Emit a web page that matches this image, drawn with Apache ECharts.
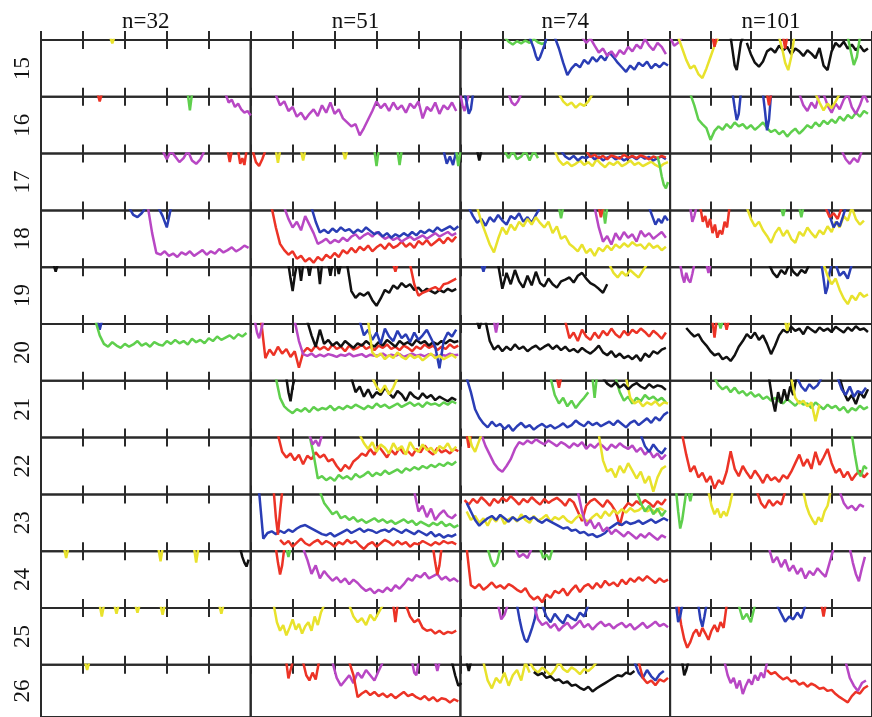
<!DOCTYPE html>
<html><head><meta charset="utf-8">
<script src="https://cdn.jsdelivr.net/npm/echarts@6/dist/echarts.min.js"></script>
<style>html,body{margin:0;padding:0;background:#fff}#c{width:872px;height:717px}</style>
</head><body><div id="c"></div>
<script>
// Labels
const rowLabels = ['15','16','17','18','19','20','21','22','23','24','25','26'];
const colLabels = ['n=32','n=51','n=74','n=101'];
const xTickStep = 20;

// Traces: [column, colour key, start x (0-100 of panel width), x step, depth values (0 = top, 100 = bottom)]
const row15 = [
 [0,'y',33,1,[-5,6,-5]],
 [2,'g',21,2,[-5,3,8,2,6,1,5,-2,4,7,3]],
 [2,'b',33,1,[-5,5,15,28,36,30,20,10,-3]],
 [2,'b',45,2,[-5,15,40,62,50,42,48,35,42,30,38,28,36,22,30,40,48,56,45,52,40,46,38,50,42,48,40,45]],
 [2,'m',58,2,[-5,5,-3,10,22,15,28,20,30,18,25,12,20,8,15,-2,10,18,5,12,25]],
 [3,'m',0,2,[-5,10,5,-5]],
 [3,'y',4,2,[-5,15,35,50,45,60,67,50,30,10,-5]],
 [3,'r',21,1,[-5,12,-5]],
 [3,'k',30,1,[-5,20,45,53,30,5,-5]],
 [3,'k',38,2,[5,25,40,47,38,20,15,22,10,18,12,25,15,20,28,18,24,32,14,45,53,20,5,12,3,15,8,18,10,20,15]],
 [3,'y',54,1.5,[-5,15,40,53,30,-5]],
 [3,'r',56,1,[-5,15,-5]],
 [3,'g',88,1.5,[-5,20,44,30,-5]]
];
const row16 = [
 [0,'r',27,1,[-5,8,-5]],
 [0,'g',70,1,[-5,24,-5]],
 [0,'m',88,1.5,[-5,10,5,18,12,22,28,25,33]],
 [1,'m',12,2,[-3,15,8,25,18,35,28,40,30,22,34,15,28,10,30,22,38,45,52,48,68,55,40,25,8,20,12,25,10,22,15,28,12,20,8,38,18,25,10,30,15,22,10,25]],
 [2,'m',0,1,[-5,15,25,10,-5]],
 [2,'b',2,1,[-5,10,30,22,-5]],
 [2,'m',23,1.5,[-5,10,15,8,-5]],
 [2,'y',47,2,[-5,8,15,10,19,12,16,8,-5]],
 [3,'g',10,2,[-5,15,40,48,55,76,60,52,58,48,55,45,52,48,56,50,58,52,45,55,62,58,66,60,70,62,56,65,58,50,55,45,52,42,48,40,46,35,42,32,38,28,35,25,30]],
 [3,'b',31,1,[-5,20,41,30,-5]],
 [3,'b',46,1,[-5,25,59,40,-5]],
 [3,'r',48,1,[-5,15,-5]],
 [3,'m',64,2,[-5,15,25,10,20,-5,-5,15,28,12,22,5,-5,18,30,15,-5,10]],
 [3,'y',72,2,[-5,10,24,12,20,8,-5]]
];
const row17 = [
 [0,'m',58,2,[-5,10,-5,5,15,8,-5,12,18,10,-5]],
 [0,'r',89,1,[-5,15,-5]],
 [0,'r',94,1,[-5,18,8,20,-5]],
 [1,'r',1,1.5,[-5,15,22,10,-5]],
 [1,'y',12,1,[-5,16,-5]],
 [1,'y',24,1,[-5,12,-5]],
 [1,'y',44,1,[-5,10,-5]],
 [1,'g',59,1,[-5,22,-5]],
 [1,'g',70,1,[-5,20,-5]],
 [1,'b',92,1.5,[-5,18,5,20,-5]],
 [1,'g',98,1,[-5,22,-5]],
 [2,'k',8,1,[-5,12,-5]],
 [2,'g',21,2,[-5,8,-5,10,5,-5,12,-5,8]],
 [2,'y',45,2,[-5,12,20,15,22,18,12,20,15,22,10,18,24,16,20,14,22,18,12,20,16,22,18,14,20,24,18,15]],
 [2,'b',48,2,[-5,5,10,4,12,6,8,3,10,5,12,7,4,10,6,12,8,5,10,4,9,6,12,8,5,10]],
 [2,'r',60,2,[-5,6,2,8,4,10,3,6,9,2,7,4,8,3,6,10,5,8,4,7]],
 [2,'g',94,1,[5,20,40,55,61,50]],
 [3,'m',85,2,[-5,10,18,8,15,-5]]
];
const row18 = [
 [0,'b',42,2,[-5,8,12,5,-5,-5,-5,-5,10,30,-5]],
 [0,'m',51,2,[-5,40,75,78,72,80,76,82,74,78,72,80,75,70,78,72,76,68,74,70,65,72,68,62,66]],
 [1,'r',10,2,[-5,30,59,70,78,72,85,80,90,84,92,82,88,78,84,75,82,70,76,66,74,64,70,62,72,65,60,68,58,66,62,55,64,58,66,54,60,52,62,56,50,58,48,55,46]],
 [1,'m',16,2,[-5,15,30,20,35,10,25,40,59,55,50,58,52,56,48,54,46,42,50,44,40,46,38,44,50,46,52,48,55,50,46,52,48,44,50,45,40,46,42,38,44,40]],
 [1,'b',29,2,[-5,20,39,34,40,32,38,30,36,33,40,34,38,30,36,42,38,46,40,48,42,46,40,45,38,44,36,40,34,38,30,36,32,28,34,28]],
 [2,'b',4,2,[-5,10,22,15,27,12,20,8,18,25,10,15,5,20,12,22,8,-5]],
 [2,'y',8,2,[-5,20,40,60,74,50,30,42,25,35,20,28,15,25,12,22,30,20,40,28,50,45,59,65,72,60,75,68,80,66,72,62,70,60,66,58,64,56,62,60,68,58,66,62,70,64]],
 [2,'m',64,2,[-5,30,55,45,60,40,52,38,48,42,55,36,46,40,50,44,38,48]],
 [2,'b',90,1.5,[-5,10,25,15,22,10,18]],
 [2,'g',47,1,[-5,14,-5]],
 [2,'g',68,1,[-5,23,-5]],
 [2,'r',66,1,[-5,12,-5]],
 [3,'r',15,1.2,[-5,20,10,30,15,40,25,48,35,42,20,30,-5]],
 [3,'m',10,1,[-5,20,10,-5]],
 [3,'y',38,2,[-5,15,28,20,35,45,57,40,30,45,35,50,57,38,45,30,40,48,35,42,28,38,20,30,10,18,-5]],
 [3,'g',55,1,[-5,10,-5]],
 [3,'g',64,1,[-5,12,-5]],
 [3,'b',78,1.5,[-5,15,30,20,28,12,-5]],
 [3,'r',77,2,[-5,12,5,15,-5]],
 [3,'y',90,2,[-5,15,25,18]]
];
const row19 = [
 [0,'k',6,1,[-5,8,-5]],
 [1,'k',18,1,[-5,20,42,15,-5]],
 [1,'k',23,1,[-5,24,-5]],
 [1,'k',27,1,[-5,15,-5]],
 [1,'k',32,1,[-5,30,-5]],
 [1,'k',37,1,[-5,15,-5]],
 [1,'k',41,1,[-5,12,-5]],
 [1,'k',46,2,[-5,42,54,46,50,44,58,68,55,40,45,32,38,28,35,30,40,36,44,38,42,46,40,44,38,42,38]],
 [1,'r',68,1,[-5,8,-5]],
 [1,'r',76,2,[-5,30,50,45,42,38,35,40,30,28,24,20]],
 [2,'b',10,1,[-5,8,-5]],
 [2,'k',18,2,[-5,38,10,30,5,25,36,15,32,8,28,34,20,30,36,25,22,18,27,15,10,20,28,32,38,45,30]],
 [2,'y',71,2,[-5,10,18,8,15,5,12,18,6,-5]],
 [3,'m',5,1,[-5,15,27,10,22,27,12,-5]],
 [3,'m',18,1,[-5,10,-5]],
 [3,'k',49,2,[-5,10,18,5,12,-5,8,15,5,10,-5]],
 [3,'b',75,1,[-5,20,47,35,10,-5]],
 [3,'y',76,2,[-5,15,30,20,40,55,65,50,58,45,52,48]],
 [3,'b',82,2,[-5,15,8,20,-5]]
];
const row20 = [
 [0,'b',27,1,[-5,10,-5]],
 [0,'g',26,2,[-5,20,35,40,32,38,42,35,40,36,30,38,34,40,32,36,38,30,35,28,34,30,36,26,32,28,34,25,30,22,28,24,20,26,18,22,16]],
 [1,'r',5,2,[-5,60,45,55,40,52,44,58,48,77,50,42,48,38,45,40,46,36,44,40,48,38,45,42,36,44,40,46,38,42,36,44,40,46,38,42,48,40,44,36,42,38,46,40,44,36,42,38]],
 [1,'m',2,1,[-5,15,25,10,-5]],
 [1,'m',21,2,[-5,30,53,56,52,58,54,57,53,55,58,54,56,52,57,55,53,58,54,56,55,52,57,54,56,53,58,55,52,56,54,57,53,55,58,54,56,52,55,54]],
 [1,'k',27,2,[-5,20,40,10,35,28,38,32,40,30,36,42,34,38,30,36,40,32,38,28,34,40,30,36,32,38,28,34,30,38,32,36,30,34,28,32,30]],
 [1,'b',52,2,[-5,20,10,28,15,35,8,22,30,12,25,18,32,15,28,20,10,25,40,78,30,15,22,10]],
 [1,'y',56,2,[-5,50,58,52,62,55,60,50,58,62,54,60,56,64,58,52,60,56,62,58,54,60]],
 [2,'k',8,1,[-5,8,-5]],
 [2,'m',16,1,[-5,15,-5]],
 [2,'k',12,2,[-5,30,45,38,48,40,46,36,44,40,48,42,38,45,40,36,44,38,46,40,48,44,50,42,48,52,46,38,50,55,48,58,52,60,56,62,55,65,52,58,48,52,45,42]],
 [2,'r',50,2,[-5,25,15,30,10,22,28,15,25,12,20,8,18,24,12,20,10,16,8,14,22,12,18,26,15]],
 [3,'k',8,2,[7,15,22,18,30,38,48,55,52,62,58,65,55,40,30,18,25,15,28,20,35,53,38,20,10,15,5,12,8,18,5,10,15,6,12,8,14,5,10,15,6,12,4,10,8,14]],
 [3,'r',21,1,[-5,24,-5]],
 [3,'r',27,1,[-5,10,-5]],
 [3,'g',24,1,[-5,8,-5]],
 [3,'y',57,1,[-5,12,-5]]
];
const row21 = [
 [1,'g',12,2,[-5,30,45,52,57,50,54,48,55,46,52,48,50,44,52,46,50,44,48,42,46,50,44,48,40,46,42,48,44,40,46,42,38,44,40,46,38,42,40,44,38,42,36,40]],
 [1,'k',17,1,[-5,20,36,10,-5]],
 [1,'k',48,2,[-5,20,10,28,15,30,20,25,12,22,30,18,24,35,20,28,32,22,30,25,34,28,32,36,30,34]],
 [1,'y',58,2,[-5,10,20,8,24,12,-5]],
 [2,'b',3,2,[-5,20,50,65,75,82,72,80,76,85,78,88,80,74,82,78,86,80,76,82,78,84,80,75,82,78,70,76,80,72,78,74,80,76,72,78,70,76,82,74,70,78,72,66,74,64,70,60,55]],
 [2,'g',43,2,[-5,25,40,30,45,35,48,38,30,20]],
 [2,'g',74,2,[-5,20,35,28,40,30,36,25,32,28,35,30,38]],
 [2,'y',79,2,[-5,30,40,35,45,38,42,36,44,38,40]],
 [2,'k',68,2,[-5,5,10,3,12,6,15,8,4,10,14,6,12,8,10,16]],
 [2,'r',46,1,[-5,12,-5]],
 [2,'g',63,1,[-5,30,-5]],
 [3,'g',22,2,[-5,8,15,10,20,12,22,18,26,20,28,24,32,28,35,30,36,40,32,38,44,36,42,40,48,38,44,50,42,48,44,52,46,56,48,52,44,50,46]],
 [3,'k',49,1.5,[-5,30,54,20,40,15,35,10,25,-5]],
 [3,'k',84,2,[-5,20,35,25,41,20,30,15]],
 [3,'y',60,2,[-5,30,40,35,45,38,71,42]],
 [3,'b',63,2,[-5,10,18,6,14,8,-5]],
 [3,'b',83,2,[-5,15,25,10,28,18,22,12]]
];
const row22 = [
 [1,'r',13,2,[-5,25,35,28,40,30,47,32,38,26,35,30,42,38,50,59,48,55,42,36,28,32,20,30,15,25,35,22,30,18,28,24,32,20,26,14,24,30,18,26,22,28,20,24]],
 [1,'g',28,2,[-5,30,72,68,75,70,76,66,72,68,74,64,70,66,60,68,62,66,58,64,60,56,62,54,58,52,56,50,54,48,52,46,50,44,48,42]],
 [1,'y',52,2,[-5,10,20,8,25,12,18,28,10,22,15,30,8,20,25,12,22,18,28,15,20,10,24,16]],
 [1,'m',28,1.5,[-5,12,5,15,-5]],
 [2,'m',10,2,[-5,15,30,45,55,60,50,38,20,8,12,5,10,3,8,12,5,10,15,8,12,18,10,15,8,20,12,18,10,15,22,12,18,10,16,20,14,25,18,30,22,35,28,38,30]],
 [2,'y',66,2,[-5,40,60,55,70,50,62,45,58,72,60,80,68,95,70,55,50]],
 [2,'b',86,2,[-5,15,25,12,22,28,18]],
 [2,'r',3,1,[-5,18,-5]],
 [2,'y',4,1.5,[-5,15,25,10,-5]],
 [3,'r',6,2,[-5,30,60,50,70,62,78,68,90,75,82,60,24,55,68,50,62,72,58,68,80,65,75,70,78,66,72,60,45,30,50,38,55,25,48,35,20,45,62,55,70,60,75,65,58,70,62]],
 [3,'g',90,1.5,[-5,30,60,68,50,55]]
];
const row23 = [
 [1,'b',4,2,[-5,78,68,65,70,64,68,62,66,60,56,54,58,62,66,70,72,68,74,70,66,62,68,64,60,66,62,64,68,64,62,66,60,64,68,62,66,70,64,68,72,66,74,70,76,72,74,70]],
 [1,'r',11,1,[-5,40,71,30,-5]],
 [1,'r',14,2,[80,88,82,92,85,78,86,90,84,80,88,82,86,92,84,88,80,86,82,90,96,88,84,92,86,80,84,90,82,88,84,92,86,88,82,86,90,84,88,82,86,84,88]],
 [1,'g',33,2,[-5,15,25,35,30,42,38,45,40,48,44,50,46,42,48,44,50,46,52,48,44,50,46,54,48,52,56,50,54,48,56,52,58,54]],
 [1,'m',78,2,[-5,30,20,40,25,45,35,28,38,42,35]],
 [2,'r',2,2,[10,18,8,15,5,12,20,8,15,6,12,3,10,18,8,14,5,12,18,8,15,10,6,12,20,8,14,30,47,20,12,8,15,22,10,18,30,55,25,15,20,12,18,10,15,22,12,18,8]],
 [2,'y',3,2,[30,45,38,50,42,55,40,48,36,52,44,40,48,35,45,50,38,46,42,36,48,40,44,38,46,50,42,36,44,48,40,34,42,30,38,28,34,26,32,24,30,28,22,30,26,32,24,28]],
 [2,'b',3,2,[15,30,45,55,48,42,38,45,36,42,48,40,46,42,38,44,40,46,50,44,48,52,56,60,58,64,62,68,66,72,70,75,72,68,60,55,50,54,48,52,50,46,52,48,44,50,46,42,46]],
 [2,'m',56,2,[-5,30,55,45,60,50,65,58,70,62,68,74,66,72,78,70,76,68,74,80,72,76]],
 [2,'g',84,2,[-5,15,30,20,35,25,38,28]],
 [3,'g',3,1,[-5,30,60,45,20,-5]],
 [3,'g',9,1,[-5,12,-5]],
 [3,'y',19,1.5,[-5,20,35,25,41,30,38,20,-5]],
 [3,'r',43,2,[-5,15,24,10,20,12,18,-5]],
 [3,'y',66,1.5,[-5,20,35,45,53,40,48,30,20,-5]],
 [3,'m',84,2,[-5,15,25,20,28,18,22]]
];
const row24 = [
 [0,'y',11,1,[-5,12,-5]],
 [0,'y',56,1,[-5,18,-5]],
 [0,'y',73,1,[-5,20,-5]],
 [0,'k',95,1,[-5,10,20,27,15]],
 [1,'r',12,1,[-5,20,41,25,-5]],
 [1,'g',17,1,[-5,10,-5]],
 [1,'m',25,2,[-5,15,40,25,48,35,44,52,46,55,48,58,50,56,64,70,66,74,68,72,64,70,60,66,58,48,52,42,46,38,48,44,40,50,45,52,48,54]],
 [1,'r',87,1,[-5,20,41,25,-5]],
 [2,'r',3,2,[-5,60,65,58,68,62,55,64,60,66,58,62,68,72,65,78,85,80,90,76,82,70,74,66,78,68,60,72,62,58,66,56,64,52,60,55,62,50,58,48,54,46,52,44,50,56,48,54,50]],
 [2,'g',13,1.5,[-5,15,27,20,-5]],
 [2,'g',38,1.5,[-5,12,6,15,-5]],
 [2,'m',26,2,[-5,10,5,12,-5]],
 [3,'m',49,2,[-5,20,10,28,15,35,25,40,30,48,35,42,30,38,45,20,-5]],
 [3,'m',89,1.5,[-5,20,40,53,30,10]]
];
const row25 = [
 [0,'y',28,1,[-5,15,-5]],
 [0,'y',35,1,[-5,10,-5]],
 [0,'y',45,1,[-5,8,-5]],
 [0,'y',57,1,[-5,12,-5]],
 [0,'y',85,1,[-5,10,-5]],
 [1,'y',11,1.5,[-5,25,40,30,48,35,20,38,28,45,32,25,40,15,30,8,-5]],
 [1,'y',47,2,[-5,15,25,18,30,12,22,8,-5]],
 [1,'r',68,1,[-5,25,-5]],
 [1,'r',74,2,[-5,15,25,20,35,40,38,45,40,46,42,44,40]],
 [2,'b',27,1.2,[-5,20,40,55,60,48,35,20,-5]],
 [2,'m',35,2,[-5,20,30,25,35,28,40,32,26,36,30,22,34,28,38,30,24,32,28,36,30,26,34,28,38,32,26,35,30,24,32,28,34]],
 [2,'b',39,2,[-5,15,25,10,20,27,12,18,22,8,15,-5]],
 [2,'m',18,1.5,[-5,20,12,-5]],
 [3,'r',4,1.5,[-5,30,55,70,60,45,38,50,35,45,56,40,30,42,25,35,-5]],
 [3,'b',3,1,[-5,25,15,-5]],
 [3,'b',14,1,[-5,20,33,15,-5]],
 [3,'g',34,2,[-5,20,10,25,-5]],
 [3,'b',53,2,[-5,10,24,15,20,8,18,-5]],
 [3,'r',75,1,[-5,15,-5]]
];
const row26 = [
 [0,'y',21,1,[-5,10,-5]],
 [1,'r',17,1,[-5,26,10,-5]],
 [1,'r',25,1.5,[-5,20,30,15,28,-5]],
 [1,'m',39,2,[-5,25,40,30,20,35,15,25,10,20,30,12,-5]],
 [1,'r',47,2,[-5,20,62,55,50,58,52,60,55,62,56,64,58,52,60,56,62,66,60,68,62,70,64,66,72,66,70]],
 [1,'k',96,1.5,[-5,20,40,35]],
 [1,'m',77,1,[-5,15,20,-5]],
 [1,'m',88,1,[-5,12,-5]],
 [2,'k',3,1,[-5,12,-5]],
 [2,'y',11,2,[-5,30,45,25,35,15,40,20,10,30,-5,15]],
 [2,'y',33,2,[-5,8,15,5,12,20,10,-5,8,14,5,10,18,8,12,5,-5]],
 [2,'k',35,2,[14,20,16,25,22,30,28,35,32,40,38,44,48,42,51,45,40,35,30,25,20,22,15,18,12]],
 [2,'b',83,2,[-5,15,25,10,22,30,18,12]],
 [2,'r',85,2,[-5,25,35,30,39,28,32,25]],
 [3,'k',6,1,[-5,20,10,-5]],
 [3,'m',27,1.5,[-5,20,35,25,45,30,56,40,28,38,20,30,15,25,-5]],
 [3,'r',48,2,[10,18,14,22,28,24,32,30,38,34,42,36,40,46,44,50,48,56,62,67,72,60,52,55,45,40]],
 [3,'m',87,2,[-5,25,40,50,35,30]]
];
const rows = [row15,row16,row17,row18,row19,row20,row21,row22,row23,row24,row25,row26];

const palette = {r:'#ec3326', b:'#2a3db5', m:'#b847c4', g:'#5fcf4d', y:'#e8e22c', k:'#111111'};
const serif = "'Liberation Serif','Times New Roman',serif";
const L = 41, T = 40, W = 209.7, H = 56.8;
const lineCol = '#2a2a2a';

const grids = [], xAxes = [], yAxes = [], series = [];
for (let r = 0; r < rowLabels.length; r++) {
  for (let c = 0; c < colLabels.length; c++) {
    const idx = r * colLabels.length + c;
    grids.push({left: L + c * W, top: T + r * H, width: W, height: H, show: true,
      borderColor: lineCol, borderWidth: 2, backgroundColor: 'transparent'});
    const base = {type: 'value', gridIndex: idx, min: 0, max: 100, interval: xTickStep,
      axisLine: {show: false}, axisLabel: {show: false}, splitLine: {show: false},
      axisTick: {show: true, inside: true, length: 9, lineStyle: {color: lineCol, width: 2}}};
    xAxes.push(Object.assign({}, base, {position: 'bottom'}));
    xAxes.push(Object.assign({}, base, {position: 'top', name: r === 0 ? colLabels[c] : '',
      nameLocation: 'middle', nameGap: 7,
      nameTextStyle: {fontFamily: serif, fontSize: 23, color: '#111'}}));
    yAxes.push({type: 'value', gridIndex: idx, min: 0, max: 100, inverse: true,
      axisLine: {show: false}, axisTick: {show: false}, axisLabel: {show: false}, splitLine: {show: false},
      name: c === 0 ? rowLabels[r] : '', nameLocation: 'middle', nameRotate: 90, nameGap: 7,
      nameTextStyle: {fontFamily: serif, fontSize: 23, color: '#111'}});
  }
  rows[r].forEach(t => {
    const [c, k, x0, step, vals] = t;
    const idx = r * colLabels.length + c;
    series.push({type: 'line', xAxisIndex: idx * 2, yAxisIndex: idx,
      data: vals.map((v, i) => [x0 + i * step, v]),
      symbol: 'none', silent: true, clip: true,
      lineStyle: {color: palette[k], width: 2.5}, itemStyle: {color: palette[k]}});
  });
}

const chart = echarts.init(document.getElementById('c'), null, {renderer: 'canvas'});
chart.setOption({animation: false, backgroundColor: '#fff', grid: grids, xAxis: xAxes, yAxis: yAxes, series: series});
</script>
</body></html>
